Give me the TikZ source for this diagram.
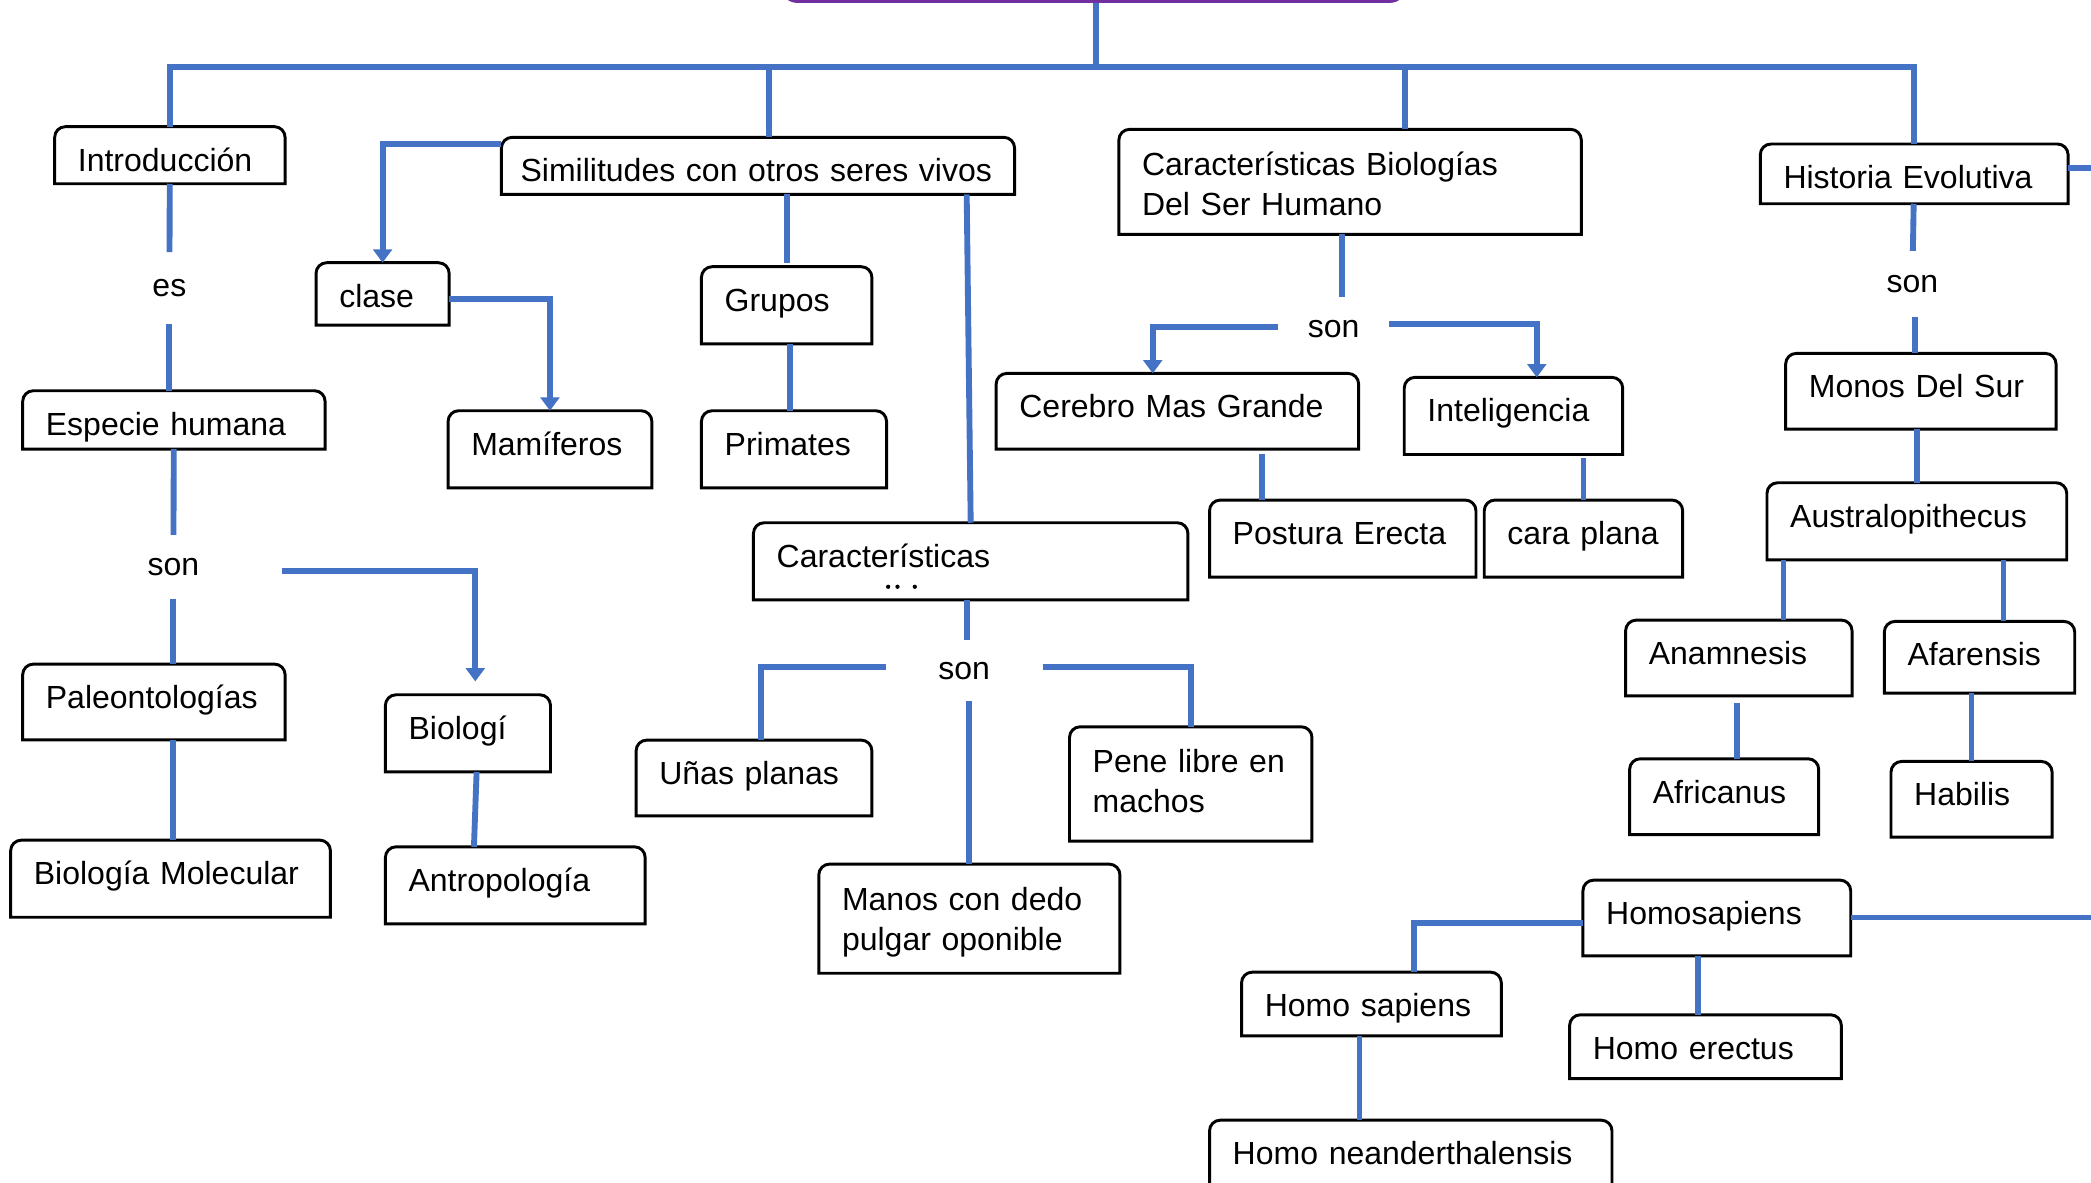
\documentclass[tikz,border=0pt]{standalone}
\usepackage{fontspec}
\setmainfont{Liberation Sans}
\usepackage{tikz}
\usetikzlibrary{arrows.meta}

\definecolor{mapblue}{RGB}{68,114,196}
\definecolor{mappurple}{RGB}{112,48,160}

\begin{document}
\begin{tikzpicture}[x=0.5pt, y=-0.5pt,
        every node/.style={font=\fontsize{12pt}{15pt}\selectfont},
        concept/.style={inner xsep=8.5pt, inner ysep=0pt, anchor=north west, align=left,
            text height=16.5pt, text depth=#1},
        concept/.default=12pt,
        outline/.style={draw=black, line width=1.1pt},
        word/.style={inner sep=0pt},
        link/.style={draw=mapblue, line width=2.2pt},
        arrowlink/.style={link, -{Triangle[width=7pt, length=5pt]}},
        title/.style={draw=mappurple, line width=1.2pt, rounded corners=6pt, inner sep=0pt,
            minimum width=234pt, minimum height=41pt}
    ]
        \useasboundingbox[fill=white] (0,0) rectangle (1568,887);

        % Title box (only its lower edge is on the page)
        \node[title] (titulo) at (820,-40) {};
        \coordinate (bar) at (822,50);

        % Left branch
        \node[concept=4.5pt, text width=69pt] (intro) at (41,95) {Introducción};
        \node[word, minimum height=26.5pt] (es) at (127,216) {es};
        \node[concept=5pt, text width=96pt] (especie) at (17,293) {Especie humana};
        \node[word, minimum width=81pt, minimum height=23.5pt] (son1) at (130,425) {son};
        \node[concept=11.5pt, text width=81pt] (paleo) at (17,498) {Paleontologías};
        \node[concept, text width=102.5pt] (biomol) at (8,630) {Biología Molecular};
        \node[concept, text width=44.5pt] (biol) at (289,521) {Biologí};
        \node[concept, text width=80pt] (antrop) at (289,635) {Antropología};

        % Similitudes
        \node[concept=4.5pt, text width=178pt, inner xsep=7pt] (simil) at (376,103) {Similitudes con otros seres vivos};
        \node[concept=6.5pt, text width=32.5pt] (clase) at (237,197) {clase};
        \node[concept, text width=59pt] (mamif) at (336,308) {Mamíferos};
        \node[concept, text width=46.5pt] (grupos) at (526,200) {Grupos};
        \node[concept, text width=52pt] (primates) at (526,308) {Primates};
        \node[concept, text width=145.5pt] (caract) at (565,392) {Características};
        \node[word, minimum width=58.5pt, minimum height=22.5pt] (son2) at (723,503) {son};
        \node[concept=11.5pt, text width=71pt] (unas) at (477,555) {Uñas planas};
        \node[concept=25.5pt, text width=73.5pt, text height=17pt] (pene) at (802,545) {Pene libre en\\machos};
        \node[concept=23.5pt, text width=95.5pt, text height=17pt] (manos) at (614,648) {Manos con dedo\\pulgar oponible};

        % Caracteristicas biologicas
        \node[concept=22pt, text width=156pt, text height=17pt] (carbio) at (839,97) {Características Biologías\\Del Ser Humano};
        \node[word, minimum width=41.5pt, minimum height=24pt] (son3) at (1000,247) {son};
        \node[concept=11.5pt, text width=118.5pt] (cerebro) at (747,280) {Cerebro Mas Grande};
        \node[concept, text width=64.5pt] (intel) at (1053,283) {Inteligencia};
        \node[concept, text width=82.5pt] (postura) at (907,375) {Postura Erecta};
        \node[concept, text width=57pt] (cara) at (1113,375) {cara plana};

        % Historia evolutiva
        \node[concept=5.5pt, text width=98pt] (historia) at (1320,108) {Historia Evolutiva};
        \node[word, minimum height=24.5pt] (son4) at (1434,213) {son};
        \node[concept=11.5pt, text width=84pt] (monos) at (1339,265) {Monos Del Sur};
        \node[concept, text width=95pt] (austral) at (1325,362) {Australopithecus};
        \node[concept=11.5pt, text width=67.5pt] (anam) at (1219,465) {Anamnesis};
        \node[concept=10pt, text width=54pt] (afar) at (1413,466) {Afarensis};
        \node[concept=11.5pt, text width=53.5pt] (afric) at (1222,569) {Africanus};
        \node[concept=11.5pt, text width=43pt] (habil) at (1418,571) {Habilis};
        \node[concept=11.5pt, text width=83pt] (homosap) at (1187,660) {Homosapiens};
        \node[concept=7pt, text width=80pt] (hsapiens) at (931,729) {Homo sapiens};
        \node[concept=7pt, text width=84.5pt] (herectus) at (1177,761) {Homo erectus};
        \node[concept, text width=133.5pt] (neander) at (907,840) {Homo neanderthalensis};
        \coordinate (edge1) at (1600,126);
        \coordinate (edge2) at (1600,688);

        % Box outlines: round top, square bottom
        \foreach \n in {intro,especie,paleo,biomol,biol,antrop,clase,mamif,simil,grupos,primates,caract,unas,pene,manos,carbio,cerebro,intel,postura,cara,historia,monos,austral,anam,afar,afric,habil,homosap,hsapiens,herectus,neander}
            \draw[outline] (\n.south west) -- ([yshift=-4pt]\n.north west)
                arc[start angle=180, end angle=90, radius=4pt] -- ([xshift=-4pt]\n.north east)
                arc[start angle=90, end angle=0, radius=4pt] -- (\n.south east) -- cycle;

        % Clipped second line of Caracteristicas
        \fill (666,440) circle[radius=0.8pt];
        \fill (673,440) circle[radius=0.8pt];
        \fill (686,440) circle[radius=0.8pt];

        % Top bar
        \draw[link] (titulo.south -| bar) -- (bar);
        \draw[link] (intro.north) |- (bar) -| (historia.north);
        \draw[link] ([xshift=4pt]simil.north) -- ([xshift=4pt]simil.north |- bar);
        \draw[link] ([xshift=20.5pt]carbio.north) -- ([xshift=20.5pt]carbio.north |- bar);
        \draw[link] (historia.east |- edge1) -- (edge1);

        % Left branch edges
        \draw[link] (intro) -- (es);
        \draw[link] (es.south) -- (es.south |- especie.north);
        \draw[link] (especie) -- (son1);
        \draw[link] (son1.south) -- (son1.south |- paleo.north);
        \draw[link] (son1.south |- paleo.south) -- (son1.south |- biomol.north);
        \draw[arrowlink, shorten >=5pt] ([yshift=-1.5pt]son1.east) -| ([xshift=2.75pt]biol.north);
        \draw[link] ([xshift=3.25pt]biol.south) -- ([xshift=2.25pt]biol.south |- antrop.north);

        % Similitudes edges
        \draw[arrowlink] ([yshift=-2.5pt]simil.north west) -| (clase.north);
        \draw[arrowlink] ([yshift=-2pt]clase.east) -| (mamif.north);
        \draw[link] (grupos.north |- simil.south) -- ([yshift=1.5pt]grupos.north);
        \draw[link] ([xshift=1.25pt]grupos.south) -- ([xshift=1.25pt]grupos.south |- primates.north);
        \draw[link] ([xshift=-1.5pt]caract.north |- simil.south) -- (caract.north);
        \draw[link] ([xshift=-1.25pt]caract.south) -- ([xshift=-1.25pt]caract.south |- son2.north);
        \draw[link] (manos.north) -- (manos.north |- son2.south);
        \draw[link] ([yshift=1.5pt]son2.west) -| ([xshift=2.5pt]unas.north);
        \draw[link] ([yshift=1.5pt]son2.east) -| (pene.north);

        % Caracteristicas biologicas edges
        \draw[link] ([xshift=-3pt]carbio.south) -- ([xshift=-3pt]carbio.south |- son3.north);
        \draw[arrowlink] ([yshift=1pt]son3.west) -| ([xshift=-9.25pt]cerebro.north);
        \draw[arrowlink] ([yshift=2pt]son3.east) -| ([xshift=8.75pt]intel.north);
        \draw[link, shorten >=2pt] ([xshift=-30.25pt]postura.north) -- ([xshift=-30.25pt]postura.north |- cerebro.south);
        \draw[link, shorten >=1.5pt] (cara.north) -- (cara.north |- intel.south);

        % Historia evolutiva edges
        \draw[link] (historia) -- (son4);
        \draw[link] ([xshift=1pt]son4.south) -- ([xshift=1pt]son4.south |- monos.north);
        \draw[link] (monos.south -| austral.north) -- (austral.north);
        \draw[link] ([xshift=16.75pt]anam.north) -- ([xshift=16.75pt]anam.north |- austral.south);
        \draw[link] ([xshift=9pt]afar.north) -- ([xshift=9pt]afar.north |- austral.south);
        \draw[link, shorten <=2.5pt] ([xshift=-0.75pt]anam.south) -- ([xshift=-0.75pt]anam.south |- afric.north);
        \draw[link] (habil.north) -- (habil.north |- afar.south);
        \draw[link] (homosap.east |- edge2) -- (edge2);
        \draw[link] ([yshift=-2pt]homosap.west) -| ([xshift=16pt]hsapiens.north);
        \draw[link] ([xshift=-2.75pt]herectus.north) -- ([xshift=-2.75pt]herectus.north |- homosap.south);
        \draw[link] ([xshift=-4.5pt]hsapiens.south) -- ([xshift=-4.5pt]hsapiens.south |- neander.north);

    \end{tikzpicture}
\end{document}
